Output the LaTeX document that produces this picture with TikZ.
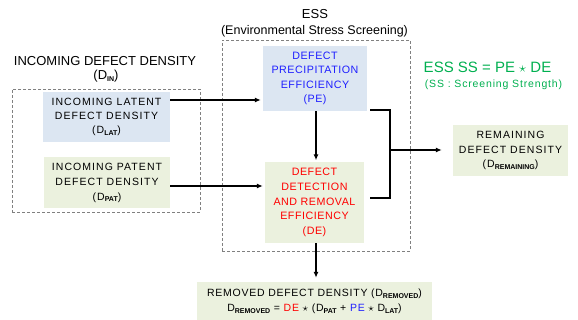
\documentclass[tikz,border=0pt]{standalone}
\usepackage{fontspec}
\setmainfont{Liberation Sans}
\newfontfamily\fa[LetterSpace=10]{Liberation Sans}
\newfontfamily\fb[LetterSpace=5]{Liberation Sans}
\newfontfamily\fc[LetterSpace=7]{Liberation Sans}
\newfontfamily\fd[LetterSpace=8]{Liberation Sans}
\usetikzlibrary{arrows.meta}
\definecolor{boxblue}{HTML}{DCE6F2}
\definecolor{boxgreen}{HTML}{EBF1DE}
\definecolor{txtblue}{HTML}{1F1FFF}
\definecolor{txtred}{HTML}{FF0000}
\definecolor{txtgreen}{HTML}{00B050}
\definecolor{dashgray}{HTML}{808080}
\newcommand\dsub[1]{\raisebox{-1.8pt}{\normalfont\fontsize{7}{7}\selectfont\bfseries #1}}
\begin{document}
\begin{tikzpicture}[x=1pt,y=-1pt,
  frame/.style={draw=dashgray, line width=0.8pt, dash pattern=on 3pt off 2pt, rectangle, inner sep=0pt},
  bluebox/.style={fill=boxblue, rectangle, inner sep=0pt, align=center},
  greenbox/.style={fill=boxgreen, rectangle, inner sep=0pt, align=center},
  arr/.style={line width=1.4pt, -{Latex[length=6pt,width=5pt]}},
  ln/.style={line width=1.4pt},
  lbl/.style={inner sep=0pt, anchor=base}
]
\useasboundingbox (0,0) rectangle (578,320);
\fill[white] (0,0) rectangle (578,320);

% dashed frames
\node[frame, minimum width=188pt, minimum height=123pt] (INFRAME) at (106,150.5) {};
\node[frame, minimum width=188pt, minimum height=211pt] (ESSFRAME) at (316,145.5) {};

% titles
\node[lbl, font=\fontsize{13}{15}\selectfont] (TIN) at (105,66) {INCOMING DEFECT DENSITY};
\node[lbl, font=\fontsize{13}{15}\selectfont] (TIN2) at (106,80) {(D\dsub{IN})};
\node[lbl, font=\fontsize{13}{15}\selectfont] (TESS) at (315,19) {ESS};
\node[lbl, font=\fontsize{12.5}{15}\selectfont] (TESS2) at (314.5,35) {(Environmental Stress Screening)};
\node[lbl, text=txtgreen, font=\fontsize{15}{17}\selectfont] (SSEQ) at (487.5,73) {ESS SS = PE $\star$ DE};
\node[lbl, text=txtgreen, font=\fd\fontsize{10.5}{12}\selectfont] (SSDEF) at (493.5,88) {(SS : Screening Strength)};

% boxes
\node[bluebox, minimum width=127pt, minimum height=50pt, font={\fa\fontsize{10.5}{14}\selectfont}] (LAT) at (106.5,117)
  {INCOMING LATENT\\DEFECT DENSITY\\(D\dsub{LAT})};
\node[greenbox, minimum width=126pt, minimum height=51pt, font={\fa\fontsize{10.5}{15}\selectfont}] (PAT) at (107,182.5)
  {INCOMING PATENT\\DEFECT DENSITY\\(D\dsub{PAT})};
\node[bluebox, minimum width=104pt, minimum height=65pt, text=txtblue, font={\fb\fontsize{10.7}{14.5}\selectfont}] (PE) at (315,78.5)
  {DEFECT\\PRECIPITATION\\EFFICIENCY\\(PE)};
\node[greenbox, minimum width=99pt, minimum height=81pt, text=txtred, font={\fb\fontsize{10.7}{14.75}\selectfont}] (DE) at (314.5,202.5)
  {DEFECT\\DETECTION\\AND REMOVAL\\EFFICIENCY\\(DE)};
\node[greenbox, minimum width=115pt, minimum height=51pt, font={\fa\fontsize{10.5}{14.5}\selectfont}] (REM) at (510.5,150.5)
  {REMAINING\\DEFECT DENSITY\\(D\dsub{REMAINING})};
\node[greenbox, minimum width=235pt, minimum height=38pt, font={\fc\fontsize{10.5}{15}\selectfont}] (RMV) at (314.5,301)
  {REMOVED DEFECT DENSITY (D\dsub{REMOVED})\\
   D\dsub{REMOVED} = \textcolor{txtred}{DE} $\star$ (D\dsub{PAT} + \textcolor{txtblue}{PE} $\star$ D\dsub{LAT})};

% connectors
\draw[arr, shorten >=2pt] (LAT.east |- 0,100) -- (PE.west |- 0,100);
\draw[arr, shorten >=2pt] (PAT.east |- 0,186) -- (DE.west |- 0,186);
\draw[arr, shorten >=1.5pt] (PE.south -| 316,0) -- (DE.north -| 316,0);
\draw[arr, shorten >=4pt] (DE.south -| 316,0) -- (RMV.north -| 316,0);
\coordinate (J) at (390,150);
\draw[ln] ([xshift=3pt,yshift=1pt]PE.south east) -| (J) |- ([xshift=6pt]DE.east |- 0,198);
\draw[arr, shorten >=11pt] (J) -- (REM.west |- J);
\end{tikzpicture}
\end{document}
